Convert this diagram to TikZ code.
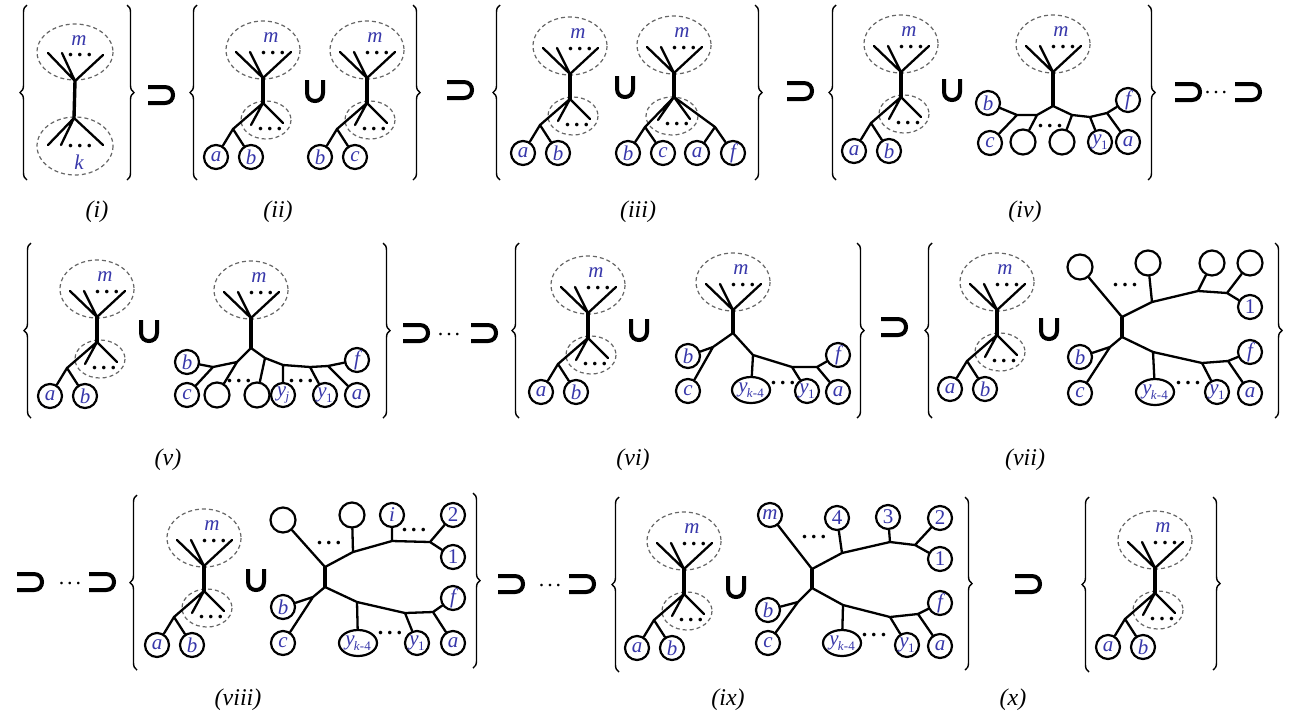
\documentclass[tikz,border=0pt]{standalone}
\usepackage{fontspec}
\setmainfont{Liberation Serif}
\usetikzlibrary{decorations.pathreplacing,shapes.geometric}
\definecolor{lbl}{RGB}{55,55,170}
\newcommand\dts{\textbf{.\kern2pt.\kern2pt.}}
\newcommand\gapdots{.\kern1.4pt.\kern1.4pt.}
\newcommand\sub[2]{\textit{#1}\kern-.3pt\raisebox{-.5ex}{\fontsize{6.5}{7}\selectfont #2}}
\tikzset{
  pics/mtop/.style={code={
    \coordinate (-c) at (0,0);
    \coordinate (-t1) at (-27,-26);
    \coordinate (-t2) at (-13,-26);
    \coordinate (-t3) at (28,-26);
    \draw[ring] (0,-28) ellipse [x radius=37, y radius=29];
    \draw[edge] (-c) -- (-t1) (-c) -- (-t2) (-c) -- (-t3);
    \node[dotrow] (-dots) at (10,-25) {\dts};
    \node[tag] (-m) at (8,-40) {m};
  }},
  pics/lowpair/.style 2 args={code={
    \coordinate (-c) at (0,0);
    \coordinate (-d) at (0,25);
    \coordinate (-j) at (-30,51);
    \coordinate (-s1) at (-12,47);
    \coordinate (-s2) at (20,45);
    \draw[ring] (3,42) ellipse [x radius=25, y radius=19];
    \draw[bar] (-c) -- (-d);
    \draw[edge] (-d) -- (-s1) (-d) -- (-s2) (-d) -- (-j);
    \node[dotrow] (-dots) at (7,51) {\dts};
    \node[leaf] (-l) at (-47,79) {#1};
    \node[leaf] (-r) at (-12,79) {#2};
    \draw[edge] (-j) -- (-l) (-j) -- (-r);
  }},
  pics/supsym/.style={code={
    \draw[symline] (0,-8) -- (17,-8) .. controls (27.7,-8) and (27.7,8) .. (17,8) -- (0,8);
  }},
  pics/cupsym/.style={code={
    \draw[symline] (-8,-11) -- (-8,2) .. controls (-8,12.7) and (8,12.7) .. (8,2) -- (8,-11);
  }}
}
\begin{document}
\begin{tikzpicture}[x=0.5pt, y=-0.5pt,
  edge/.style={line width=1.15pt, line cap=round},
  bar/.style={line width=1.7pt},
  ring/.style={draw=black!60, line width=0.6pt, dash pattern=on 2pt off 1.5pt},
  leaf/.style={circle, draw, line width=1.1pt, minimum size=12pt, inner sep=0pt, text=lbl, font=\fontsize{10.5}{11}\selectfont\itshape},
  hole/.style={leaf, minimum size=12.5pt},
  blob/.style={ellipse, draw, line width=1.1pt, minimum width=19pt, minimum height=13pt, inner sep=0.3pt, text=lbl, font=\fontsize{10.5}{11}\selectfont\itshape},
  tag/.style={text=lbl, inner sep=0pt, font=\fontsize{10.5}{11}\selectfont\itshape},
  dotrow/.style={inner sep=0pt, font=\fontsize{11}{11}\selectfont},
  symline/.style={line width=2pt},
  curly/.style={decorate, decoration={brace, amplitude=3.5pt}, line width=0.7pt},
  caption/.style={font=\fontsize{12}{13}\selectfont\itshape}]
\useasboundingbox (0,0) rectangle (1294,719);

\foreach \x/\t/\b in {27/5/180, 197/5/180, 500/5/180, 836/5/180, 31/243/418, 519/243/418, 932/243/418, 137/495/670, 619/497/672, 1089/497/672}
  \draw[curly] (\x,\b) -- (\x,\t);
\foreach \x/\t/\b in {127/5/180, 413/5/180, 755/5/180, 1148/5/180, 383/243/418, 857/243/418, 1275/243/418, 473/493/668, 965/497/670, 1213/497/670}
  \draw[curly] (\x,\t) -- (\x,\b);

\pic at (148,95) {supsym};
\pic at (447,90) {supsym};
\pic at (787,91) {supsym};
\pic at (1175,92) {supsym};
\node[dotrow] (g1) at (1216,93) {\gapdots};
\pic at (1235,92) {supsym};
\pic at (403,333) {supsym};
\node[dotrow] (g2) at (449,334) {\gapdots};
\pic at (471,333) {supsym};
\pic at (881,327) {supsym};
\pic at (17,582) {supsym};
\node[dotrow] (g3) at (70,583) {\gapdots};
\pic at (89,582) {supsym};
\pic at (498,584) {supsym};
\node[dotrow] (g4) at (550,585) {\gapdots};
\pic at (569,584) {supsym};
\pic at (1015,584) {supsym};

\pic at (315,91) {cupsym};
\pic at (625,87) {cupsym};
\pic at (952,90) {cupsym};
\pic at (149,331) {cupsym};
\pic at (639,330) {cupsym};
\pic at (1049,329) {cupsym};
\pic at (256,580) {cupsym};
\pic at (736,587) {cupsym};

\coordinate (c1) at (75,81);
\coordinate (d1) at (74,118);
\coordinate (t11) at (48,53);
\coordinate (t12) at (62,53);
\coordinate (t13) at (103,55);
\coordinate (s11) at (48,145);
\coordinate (s12) at (61,145);
\coordinate (s13) at (103,145);
\draw[ring] (75,52) ellipse [x radius=38, y radius=28];
\draw[ring] (75,146) ellipse [x radius=38, y radius=29];
\draw[bar] (c1) -- (d1);
\draw[edge] (c1) -- (t11) (c1) -- (t12) (c1) -- (t13);
\draw[edge] (d1) -- (s11) (d1) -- (s12) (d1) -- (s13);
\node[dotrow] (dt1) at (80,55) {\dts};
\node[dotrow] (ds1) at (80,146) {\dts};
\node[tag] (m1) at (79,41) {m};
\node[tag] (k1) at (79,162) {k};

\pic (A2) at (263,78) {mtop};
\pic (B2) at (263,78) {lowpair={a}{b}};
\pic (A2r) at (367,78) {mtop};
\pic (B2r) at (367,78) {lowpair={b}{c}};

\pic (A3) at (570,74) {mtop};
\pic (B3) at (570,74) {lowpair={a}{b}};
\pic (T3) at (674,73) {mtop};
\coordinate (d3) at (674,97);
\coordinate (p3) at (645,127);
\coordinate (q3) at (715,127);
\coordinate (u3) at (658,120);
\coordinate (v3) at (690,119);
\draw[ring] (672,116) ellipse [x radius=26, y radius=19];
\draw[bar] (T3-c) -- (d3);
\draw[edge] (d3) -- (p3) (d3) -- (u3) (d3) -- (v3) (d3) -- (q3);
\node[dotrow] (dd3) at (677,124) {\dts};
\node[leaf] (b3) at (628,153) {b};
\node[leaf] (c3) at (663,153) {c};
\node[leaf] (a3) at (697,153) {a};
\node[leaf] (f3) at (733,153) {f};
\draw[edge] (p3) -- (b3) (p3) -- (c3) (q3) -- (a3) (q3) -- (f3);

\pic (A4) at (901,72) {mtop};
\pic (B4) at (901,72) {lowpair={a}{b}};
\pic (T4) at (1053,72) {mtop};
\coordinate (q4) at (1053,106);
\coordinate (p41) at (1037,115);
\coordinate (j4) at (1017,115);
\coordinate (p42) at (1072,115);
\coordinate (p43) at (1090,117);
\coordinate (p44) at (1107,113);
\node[leaf] (b4) at (988,103) {b};
\node[leaf] (c4) at (990,143) {c};
\node[hole] (e41) at (1023,142) {};
\node[hole] (e42) at (1062,142) {};
\node[leaf] (y4) at (1100,142) {\sub{y}{\textup{1}}};
\node[leaf] (f4) at (1128,100) {f};
\node[leaf] (a4) at (1128,142) {a};
\node[dotrow] (dd4) at (1050,126) {\dts};
\draw[bar] (T4-c) -- (q4);
\draw[edge] (q4) -- (p41) -- (j4) (j4) -- (b4) (j4) -- (c4) (p41) -- (e41)
  (q4) -- (p42) (p42) -- (e42) (p42) -- (p43) (p43) -- (y4) (p43) -- (p44) (p44) -- (f4) (p44) -- (a4);

\pic (A5) at (97,317) {mtop};
\pic (B5) at (97,317) {lowpair={a}{b}};
\pic (T5) at (251,318) {mtop};
\coordinate (q5) at (251,348);
\coordinate (p51) at (237,362);
\coordinate (j5) at (213,367);
\coordinate (p52) at (265,358);
\coordinate (p53) at (283,365);
\coordinate (p54) at (310,367);
\coordinate (p55) at (328,366);
\node[leaf] (b5) at (187,362) {b};
\node[leaf] (c5) at (187,395) {c};
\node[hole] (e51) at (217,395) {};
\node[hole] (e52) at (257,395) {};
\node[leaf] (yj5) at (283,395) {\sub{y}{\textit{j}}};
\node[leaf] (y5) at (325,395) {\sub{y}{\textup{1}}};
\node[leaf] (f5) at (357,360) {f};
\node[leaf] (a5) at (357,395) {a};
\node[dotrow] (dd51) at (239,381) {\dts};
\node[dotrow] (dd52) at (301,381) {\dts};
\draw[bar] (T5-c) -- (q5);
\draw[edge] (q5) -- (p51) -- (j5) (j5) -- (b5) (j5) -- (c5) (p51) -- (e51)
  (q5) -- (p52) (p52) -- (e52) (p52) -- (p53) (p53) -- (yj5) (p53) -- (p54) (p54) -- (y5)
  (p54) -- (p55) (p55) -- (f5) (p55) -- (a5);

\pic (A6) at (588,313) {mtop};
\pic (B6) at (588,313) {lowpair={a}{b}};
\pic (T6) at (733,310) {mtop};
\coordinate (q6) at (733,333);
\coordinate (j6) at (713,347);
\coordinate (p61) at (753,355);
\coordinate (p62) at (792,367);
\coordinate (p63) at (817,367);
\node[leaf] (b6) at (688,356) {b};
\node[leaf] (c6) at (688,391) {c};
\node[blob] (yk6) at (751,390) {\sub{y}{\textit{k}\textup{-4}}};
\node[leaf] (y6) at (807,391) {\sub{y}{\textup{1}}};
\node[leaf] (f6) at (838,355) {f};
\node[leaf] (a6) at (838,392) {a};
\node[dotrow] (dd6) at (783,383) {\dts};
\draw[bar] (T6-c) -- (q6);
\draw[edge] (q6) -- (j6) (j6) -- (b6) (j6) -- (c6) (q6) -- (p61) (p61) -- (yk6) (p61) -- (p62)
  (p62) -- (y6) (p62) -- (p63) (p63) -- (f6) (p63) -- (a6);

\pic (A7) at (997,310) {mtop};
\pic (B7) at (997,310) {lowpair={a}{b}};
\coordinate (v71) at (1122,317);
\coordinate (v72) at (1122,337);
\coordinate (u71) at (1152,302);
\coordinate (u72) at (1198,291);
\coordinate (u73) at (1227,293);
\coordinate (j7) at (1110,347);
\coordinate (l71) at (1153,352);
\coordinate (l72) at (1202,363);
\coordinate (l73) at (1228,361);
\node[hole] (e71) at (1080,267) {};
\node[hole] (e72) at (1148,263) {};
\node[hole] (e73) at (1212,263) {};
\node[hole] (e74) at (1250,263) {};
\node[leaf] (n71) at (1250,307) {\textup{1}};
\node[leaf] (b7) at (1080,357) {b};
\node[leaf] (c7) at (1080,393) {c};
\node[blob] (yk7) at (1155,392) {\sub{y}{\textit{k}\textup{-4}}};
\node[leaf] (y7) at (1217,392) {\sub{y}{\textup{1}}};
\node[leaf] (f7) at (1250,352) {f};
\node[leaf] (a7) at (1250,393) {a};
\node[dotrow] (dd71) at (1125,285) {\dts};
\node[dotrow] (dd72) at (1188,383) {\dts};
\draw[bar] (v71) -- (v72);
\draw[edge] (v71) -- (e71) (v71) -- (u71) (u71) -- (e72) (u71) -- (u72) (u72) -- (e73) (u72) -- (u73)
  (u73) -- (e74) (u73) -- (n71);
\draw[edge] (v72) -- (j7) (j7) -- (b7) (j7) -- (c7) (v72) -- (l71) (l71) -- (yk7) (l71) -- (l72)
  (l72) -- (y7) (l72) -- (l73) (l73) -- (f7) (l73) -- (a7);

\pic (A8) at (204,566) {mtop};
\pic (B8) at (204,566) {lowpair={a}{b}};
\coordinate (v81) at (325,567);
\coordinate (v82) at (325,587);
\coordinate (u81) at (353,552);
\coordinate (u82) at (392,541);
\coordinate (u83) at (430,542);
\coordinate (j8) at (313,597);
\coordinate (l81) at (357,602);
\coordinate (l82) at (405,613);
\coordinate (l83) at (433,612);
\node[hole] (e81) at (283,520) {};
\node[hole] (e82) at (352,515) {};
\node[leaf] (i8) at (392,515) {i};
\node[leaf] (n82) at (453,515) {\textup{2}};
\node[leaf] (n81) at (453,557) {\textup{1}};
\node[leaf] (b8) at (283,607) {b};
\node[leaf] (c8) at (283,643) {c};
\node[blob] (yk8) at (358,643) {\sub{y}{\textit{k}\textup{-4}}};
\node[leaf] (y8) at (417,643) {\sub{y}{\textup{1}}};
\node[leaf] (f8) at (453,598) {f};
\node[leaf] (a8) at (453,643) {a};
\node[dotrow] (dd81) at (329,543) {\dts};
\node[dotrow] (dd82) at (414,530) {\dts};
\node[dotrow] (dd83) at (390,633) {\dts};
\draw[bar] (v81) -- (v82);
\draw[edge] (v81) -- (e81) (v81) -- (u81) (u81) -- (e82) (u81) -- (u82) (u82) -- (i8) (u82) -- (u83)
  (u83) -- (n82) (u83) -- (n81);
\draw[edge] (v82) -- (j8) (j8) -- (b8) (j8) -- (c8) (v82) -- (l81) (l81) -- (yk8) (l81) -- (l82)
  (l82) -- (y8) (l82) -- (l83) (l83) -- (f8) (l83) -- (a8);

\pic (A9) at (684,569) {mtop};
\pic (B9) at (684,569) {lowpair={a}{b}};
\coordinate (v91) at (812,569);
\coordinate (v92) at (812,588);
\coordinate (u91) at (842,553);
\coordinate (u92) at (890,542);
\coordinate (u93) at (915,545);
\coordinate (j9) at (798,602);
\coordinate (l91) at (843,605);
\coordinate (l92) at (890,617);
\coordinate (l93) at (918,614);
\node[leaf] (m9) at (770,515) {m};
\node[leaf] (n94) at (837,518) {\textup{4}};
\node[leaf] (n93) at (888,517) {\textup{3}};
\node[leaf] (n92) at (940,518) {\textup{2}};
\node[leaf] (n91) at (940,559) {\textup{1}};
\node[leaf] (b9) at (768,610) {b};
\node[leaf] (c9) at (768,643) {c};
\node[blob] (yk9) at (842,643) {\sub{y}{\textit{k}\textup{-4}}};
\node[leaf] (y9) at (907,645) {\sub{y}{\textup{1}}};
\node[leaf] (f9) at (940,603) {f};
\node[leaf] (a9) at (940,646) {a};
\node[dotrow] (dd91) at (814,537) {\dts};
\node[dotrow] (dd92) at (874,635) {\dts};
\draw[bar] (v91) -- (v92);
\draw[edge] (v91) -- (m9) (v91) -- (u91) (u91) -- (n94) (u91) -- (u92) (u92) -- (n93) (u92) -- (u93)
  (u93) -- (n92) (u93) -- (n91);
\draw[edge] (v92) -- (j9) (j9) -- (b9) (j9) -- (c9) (v92) -- (l91) (l91) -- (yk9) (l91) -- (l92)
  (l92) -- (y9) (l92) -- (l93) (l93) -- (f9) (l93) -- (a9);

\pic (A10) at (1155,568) {mtop};
\pic (B10) at (1155,568) {lowpair={a}{b}};

\node[caption] (cap1) at (97,212) {(i)};
\node[caption] (cap2) at (278,212) {(ii)};
\node[caption] (cap3) at (638,212) {(iii)};
\node[caption] (cap4) at (1025,212) {(iv)};
\node[caption] (cap5) at (168,460) {(v)};
\node[caption] (cap6) at (633,460) {(vi)};
\node[caption] (cap7) at (1025,460) {(vii)};
\node[caption] (cap8) at (238,700) {(viii)};
\node[caption] (cap9) at (728,700) {(ix)};
\node[caption] (cap10) at (1013,700) {(x)};
\end{tikzpicture}
\end{document}
